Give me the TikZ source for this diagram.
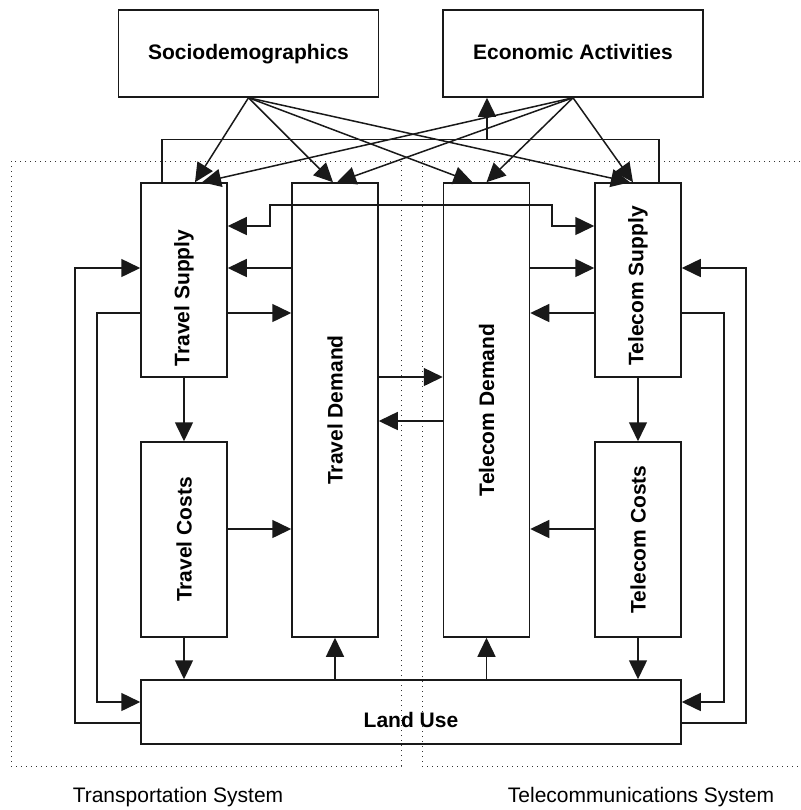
\documentclass[tikz,border=0pt]{standalone}
\usepackage{fontspec}
\setmainfont{Liberation Sans}
\usepackage{graphicx}
\usetikzlibrary{arrows.meta,positioning}
\begin{document}
\begin{tikzpicture}[x=0.5pt,y=-0.5pt,
  box/.style={shape=rectangle,draw=black!90,line width=0.75pt,inner sep=0pt,font=\fontsize{10.5}{12}\selectfont\bfseries},
  topbox/.style={box,minimum width=130pt,minimum height=43.5pt,text height=8pt,text depth=2.5pt},
  vbox/.style={box,minimum width=43pt},
  link/.style={-{Triangle[length=9.5pt,width=9pt]},line width=0.75pt,draw=black!90},
  duplex/.style={{Triangle[length=9.5pt,width=9pt]}-{Triangle[length=9.5pt,width=9pt]},line width=0.75pt,draw=black!90},
  plain/.style={line width=0.75pt,draw=black!90},
  sysframe/.style={dotted,draw=black!80,line width=0.5pt},
  syslabel/.style={font=\fontsize{10.5}{12}\selectfont}]
	\useasboundingbox (0,0) rectangle (801,810);

	% system frames
	\draw[sysframe] (11,161) rectangle (401,766);
	\draw[sysframe] (422,161) rectangle (806,766);
	\node (tsyslabel) at (178,797) [syslabel] {Transportation System};
	\node (csyslabel) at (641,797) [syslabel] {Telecommunications System};

	\node (socio) at (248.5,53.5) [topbox] {Sociodemographics};
	\node (econ) at (573,53.5) [topbox] {Economic Activities};

	\node (tsup) at (184,280) [vbox,minimum height=97pt] {\rotatebox{90}{Travel Supply\hspace{18pt}}};
	\node (tdem) at (335,410) [vbox,minimum height=227pt] {\rotatebox{90}{Travel Demand}};
	\node (tcost) at (184,539.5) [vbox,minimum height=97.5pt] {\rotatebox{90}{Travel Costs}};
	\node (cdem) at (486.5,410) [vbox,minimum height=227pt] {\rotatebox{90}{Telecom Demand}};
	\node (csup) at (638,280) [vbox,minimum height=97pt] {\rotatebox{90}{Telecom Supply\hspace{6pt}}};
	\node (ccost) at (638,539.5) [vbox,minimum height=97.5pt] {\rotatebox{90}{Telecom Costs}};
	\node (land) at (411,712) [box,minimum width=270pt,minimum height=32pt] {\raisebox{-7.75pt}[0pt][0pt]{Land Use}};

	% inputs from the top
	\draw[link] (socio.south) -- ([xshift=5.5pt]tsup.north);
	\draw[link] (socio.south) -- ([xshift=-1pt]tdem.north);
	\draw[link] (socio.south) -- ([xshift=-7pt]cdem.north);
	\draw[link] (socio.south) -- ([xshift=-4pt]csup.north);
	\draw[link] (econ.south) -- ([xshift=9pt]tsup.north);
	\draw[link] (econ.south) -- ([xshift=1pt]tdem.north);
	\draw[link] (econ.south) -- (cdem.north);
	\draw[link] (econ.south) -- ([xshift=-2.5pt]csup.north);

	% supply feedback to economic activities
	\coordinate (feedjoin) at (487,140);
	\draw[plain] ([xshift=-11pt]tsup.north) -- ++(0,-43) -| ([xshift=10.5pt]csup.north);
	\draw[link] (feedjoin) -- (feedjoin |- econ.south);

	% supply to supply
	\draw[duplex] (tsup.east |- 0,226) -| (270,205) -| (552,226) -- (csup.west |- 0,226);

	\draw[link] (tdem.west |- 0,268) -- (tsup.east |- 0,268);
	\draw[link] (cdem.east |- 0,268) -- (csup.west |- 0,268);
	\draw[link] (tsup.east |- 0,313) -- (tdem.west |- 0,313);
	\draw[link] (csup.west |- 0,313) -- (cdem.east |- 0,313);

	% outer loops with land use
	\draw[link] (land.west |- 0,723) -| (75,268) -- (tsup.west |- 0,268);
	\draw[link] (tsup.west |- 0,313) -| (97,702) -- (land.west |- 0,702);
	\draw[link] (csup.east |- 0,313) -| (724,702) -- (land.east |- 0,702);
	\draw[link] (land.east |- 0,723) -| (746,268) -- (csup.east |- 0,268);

	\draw[link] (tsup.south) -- (tcost.north);
	\draw[link] (csup.south) -- (ccost.north);
	\draw[link] (tcost.east |- 0,529) -- (tdem.west |- 0,529);
	\draw[link] (ccost.west |- 0,529) -- (cdem.east |- 0,529);

	% demand to demand
	\draw[link] (tdem.east |- 0,377) -- (cdem.west |- 0,377);
	\draw[link] (cdem.west |- 0,421) -- (tdem.east |- 0,421);

	\draw[link] (tcost.south) -- (tcost.south |- land.north);
	\draw[link] (ccost.south) -- (ccost.south |- land.north);
	\draw[link] (land.north -| tdem.south) -- (tdem.south);
	\draw[link] (land.north -| cdem.south) -- (cdem.south);
\end{tikzpicture}
\end{document}
